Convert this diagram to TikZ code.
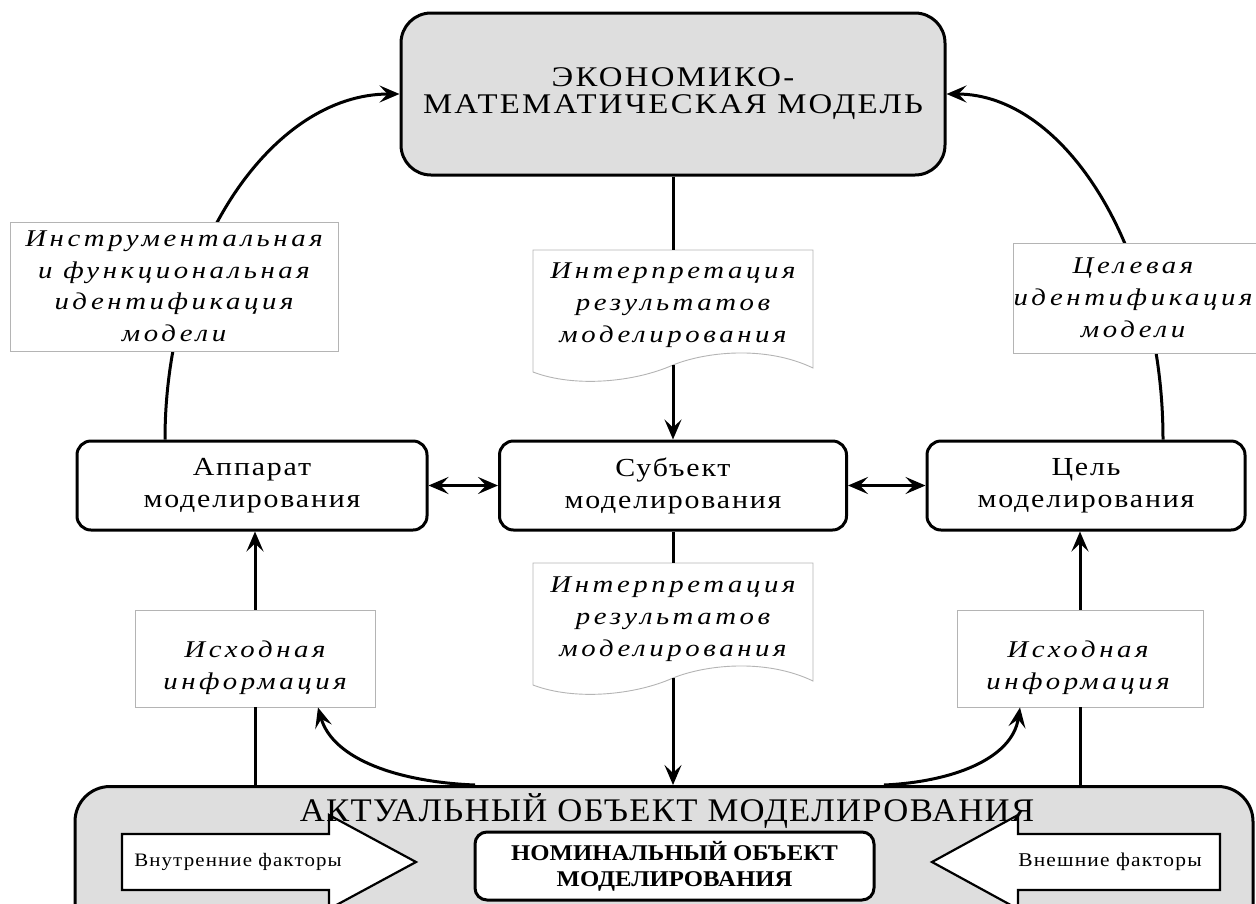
\documentclass[tikz,border=0pt]{standalone}
\usepackage{fontspec}
\setmainfont{Liberation Serif}
\newfontfamily\capsf{Liberation Serif}[FakeStretch=1.15,LetterSpace=8]
\newfontfamily\bodyf{Liberation Serif}[FakeStretch=1.15,LetterSpace=7]
\newfontfamily\itf{Liberation Serif}[FakeStretch=1.2,LetterSpace=15]
\newfontfamily\smf{Liberation Serif}[FakeStretch=1.1,LetterSpace=6]
\newfontfamily\bigf{Liberation Serif}[FakeStretch=1.05,LetterSpace=4]
\newfontfamily\nomf{Liberation Serif}[FakeStretch=1.1]
\usetikzlibrary{arrows.meta}
\definecolor{boxgray}{HTML}{DEDEDE}
\definecolor{labgray}{HTML}{B4B4B4}
\tikzset{
  box/.style={draw, line width=3pt, rounded corners=14pt, fill=white, align=center, inner sep=0pt,
    font=\bodyf\fontsize{26}{32}\selectfont},
  graybox/.style={box, fill=boxgray},
  lab/.style={draw=labgray, line width=0.9pt, fill=white, align=center, inner sep=0pt,
    font=\itf\itshape\fontsize{24}{31.5}\selectfont},
  labtext/.style={align=center, inner sep=0pt, font=\itf\itshape\fontsize{24}{32}\selectfont},
  docshape/.style={draw=labgray, line width=0.9pt, fill=white},
  conn/.style={line width=3pt},
  tip/.tip={Stealth[length=20pt,width=17pt,inset=8pt]},
  arr/.style={conn, -tip},
  darr/.style={conn, tip-tip},
  hollow/.style={draw, line width=2.2pt, fill=white, line join=miter},
}
\begin{document}
\begin{tikzpicture}[x=1pt,y=-1pt]
\useasboundingbox (0,0) rectangle (1256,903);
\clip (0,0) rectangle (1256,903);

% bottom big box
\node[graybox, rounded corners=35pt, minimum width=1178pt, minimum height=200pt, anchor=north] (big) at (664,785) {};

% top box
\node[graybox, rounded corners=30pt, minimum width=544pt, minimum height=162pt,
  font=\capsf\fontsize{28.5}{27}\selectfont] (top) at (673,94) {ЭКОНОМИКО-\\МАТЕМАТИЧЕСКАЯ МОДЕЛЬ};

% middle row
\node[box, minimum width=350pt, minimum height=89pt] (app) at (252,485.5) {Аппарат\\моделирования};
\node[box, minimum width=347pt, minimum height=89pt] (subj) at (673,485.5) {Субъект\\моделирования};
\node[box, minimum width=318pt, minimum height=89pt] (goal) at (1086,485.5) {Цель\\моделирования};

% arcs to the top box (drawn under the labels)
\coordinate (aL) at ([xshift=-87pt]app.north);
\coordinate (aR) at ([xshift=77pt]goal.north);
\draw[arr] (aL) .. controls (165,251) and (271,94) .. (top.west);
\draw[arr] (aR) .. controls (1163,250) and (1065,94) .. (top.east);

% identification labels
\node[lab, minimum width=328pt, minimum height=129pt] (instr) at (174,286.5)
  {Инструментальная\\и функциональная\\идентификация\\модели};
\node[lab, minimum width=262pt, minimum height=110pt] (tgt) at (1144,298) {};
\node[labtext] (tgttext) at (1133,298) {Целевая\\идентификация\\модели};

% document shapes
\draw[docshape] (533,250) -- (813,250) -- (813,368)
  .. controls (765,345) and (705,352) .. (673,365)
  .. controls (635,382) and (575,388) .. (533,372) -- cycle;
\coordinate (w1) at (673,365);
\node[labtext] (doc1) at (673,305) {Интерпретация\\результатов\\моделирования};
\coordinate (d1top) at (673,250);

\draw[docshape] (533,563) -- (813,563) -- (813,681)
  .. controls (765,658) and (705,665) .. (673,678)
  .. controls (635,695) and (575,701) .. (533,685) -- cycle;
\coordinate (w2) at (673,678);
\node[labtext] (doc2) at (673,619) {Интерпретация\\результатов\\моделирования};
\coordinate (d2top) at (673,563);

% vertical centre connectors
\draw[conn] (top.south) -- (d1top);
\draw[arr] (w1) -- (subj.north);
\draw[conn] (subj.south) -- (d2top);
\draw[arr] (w2) -- (w2 |- big.north);

% double arrows
\draw[darr] (app.east) -- (subj.west);
\draw[darr] (subj.east) -- (goal.west);

% source information labels
\node[lab, minimum width=240pt, minimum height=97pt] (src1) at (255,658.5) {};
\node[labtext] (src1text) at (255,668) {Исходная\\информация};
\node[lab, minimum width=246pt, minimum height=97pt] (src2) at (1080,658.5) {};
\node[labtext] (src2text) at (1078,668) {Исходная\\информация};

\draw[conn] (src1.south) -- (src1.south |- big.north);
\draw[arr] (src1.north) -- (src1.north |- app.south);
\draw[conn] (src2.south) -- (src2.south |- big.north);
\draw[arr] (src2.north) -- (src2.north |- goal.south);

% curved arrows from the actual object
\coordinate (cL) at (475,785);
\coordinate (cR) at (884,785);
\coordinate (tL) at ([xshift=63pt]src1.south);
\coordinate (tR) at ([xshift=-60pt]src2.south);
\draw[arr] (cL) .. controls (400,782) and (333,760) .. (tL);
\draw[arr] (cR) .. controls (950,782) and (1012,760) .. (tR);

% hollow arrows
\draw[hollow] (122,834) -- (329,834) -- (329,815) -- (416,862) -- (329,909) -- (329,890) -- (122,890) -- cycle;
\draw[hollow] (1220,834) -- (1018,834) -- (1018,815) -- (932,862) -- (1018,909) -- (1018,890) -- (1220,890) -- cycle;
\node[inner sep=0pt, font=\smf\fontsize{19}{22}\selectfont] (inner) at (238,862) {Внутренние факторы};
\node[inner sep=0pt, font=\smf\fontsize{19.5}{22}\selectfont] (outer) at (1110,862) {Внешние факторы};

% nominal object
\node[box, rounded corners=12pt, minimum width=399pt, minimum height=68pt,
  font=\nomf\bfseries\fontsize{22.5}{26}\selectfont] (nom) at (674.5,866) {НОМИНАЛЬНЫЙ ОБЪЕКТ\\МОДЕЛИРОВАНИЯ};

% title of the actual object
\node[inner sep=0pt, font=\bigf\fontsize{33}{34}\selectfont] (bigtitle) at (667,811) {АКТУАЛЬНЫЙ ОБЪЕКТ МОДЕЛИРОВАНИЯ};
\end{tikzpicture}
\end{document}
